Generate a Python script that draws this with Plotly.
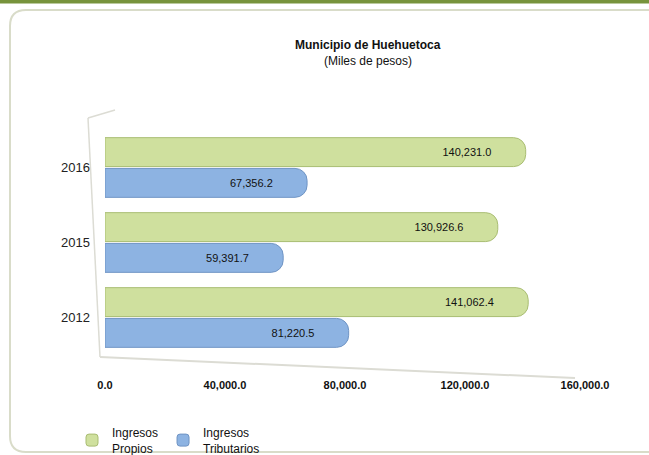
import plotly.graph_objects as go

years = ["2012", "2015", "2016"]
propios = [141062.4, 130926.6, 140231.0]
tributarios = [81220.5, 59391.7, 67356.2]
tick_vals = [0, 40000, 80000, 120000, 160000]
tick_text = ["0.0", "40,000.0", "80,000.0", "120,000.0", "160,000.0"]

W, H = 649, 455
L, R, T, B = 105, 64, 130, 100
pw, ph = W - L - R, H - T - B

def px(x):
    return (x - L) / pw

def py(y):
    return 1 - (y - T) / ph

def fmt(v):
    return f"{v:,.1f}" + "\u2007" * 5

fig = go.Figure()
fig.add_trace(go.Bar(
    y=years, x=tributarios, orientation="h", name="Ingresos<br>Tributarios",
    marker=dict(color="#8db3e2", line=dict(color="#6f94c4", width=1), cornerradius=12),
    text=[fmt(v) for v in tributarios], textposition="inside", insidetextanchor="end",
    textfont=dict(family="Arial", size=11, color="#111"), hoverinfo="x",
))
fig.add_trace(go.Bar(
    y=years, x=propios, orientation="h", name="Ingresos<br>Propios",
    marker=dict(color="#cfe09e", line=dict(color="#a9bd72", width=1), cornerradius=12),
    text=[fmt(v) for v in propios], textposition="inside", insidetextanchor="end",
    textfont=dict(family="Arial", size=11, color="#111"), hoverinfo="x",
))

shapes = [
    dict(type="rect", xref="paper", yref="paper", x0=px(-5), x1=px(W + 5), y0=py(-5), y1=py(3.5),
         fillcolor="#77933c", line=dict(width=0), layer="below"),
]
# rounded border
x0b, y0b, x1b, y1b, r = 10, 10, 700, 452, 16
path = (f"M {px(x0b)},{py(y1b - r)} L {px(x0b)},{py(y0b + r)} "
        f"Q {px(x0b)},{py(y0b)} {px(x0b + r)},{py(y0b)} L {px(x1b)},{py(y0b)} "
        f"M {px(x0b)},{py(y1b - r)} Q {px(x0b)},{py(y1b)} {px(x0b + r)},{py(y1b)} L {px(x1b)},{py(y1b)}")
shapes.append(dict(type="path", xref="paper", yref="paper", path=path,
                   line=dict(color="#d9dcc9", width=2), layer="below"))
# floor/wall lines
shapes.append(dict(type="line", xref="paper", yref="paper", x0=px(100), y0=py(357), x1=px(575), y1=py(378),
                   line=dict(color="#dcdcd4", width=2), layer="below"))
shapes.append(dict(type="line", xref="paper", yref="paper", x0=px(88), y0=py(118), x1=px(100), y1=py(357),
                   line=dict(color="#dcdcd4", width=1.5), layer="below"))
shapes.append(dict(type="line", xref="paper", yref="paper", x0=px(88), y0=py(118), x1=px(115), y1=py(110),
                   line=dict(color="#dcdcd4", width=1.5), layer="below"))

annotations = [
    dict(text="<b>Municipio de Huehuetoca</b>", xref="paper", yref="paper", x=px(368), y=py(45),
         showarrow=False, font=dict(family="Arial", size=12, color="#111"), xanchor="center", yanchor="middle"),
    dict(text="(Miles de pesos)", xref="paper", yref="paper", x=px(368), y=py(61),
         showarrow=False, font=dict(family="Arial", size=12, color="#111"), xanchor="center", yanchor="middle"),
]

fig.update_layout(
    width=W, height=H,
    margin=dict(l=L, r=R, t=T, b=B, autoexpand=False),
    paper_bgcolor="white", plot_bgcolor="white",
    barmode="group", bargap=0.18, bargroupgap=0.06,
    showlegend=True,
    legend=dict(orientation="h", x=px(72), y=py(418), xanchor="left", yanchor="top",
                traceorder="reversed", font=dict(family="Arial", size=12, color="#111"),
                itemwidth=30, bgcolor="rgba(0,0,0,0)"),
    shapes=shapes, annotations=annotations,
    xaxis=dict(range=[0, 160000], tickvals=tick_vals, ticktext=tick_text, showgrid=False,
               zeroline=False, showline=False, ticks="", automargin=False, ticklabelstandoff=22,
               tickfont=dict(family="Arial", size=11, color="#111", weight="bold")),
    yaxis=dict(showgrid=False, zeroline=False, showline=False, ticks="", ticklabelstandoff=14,
               automargin=False, tickfont=dict(family="Arial", size=13, color="#222")),
    font=dict(family="Arial"),
)
fig.write_html("out.html", config={"displayModeBar": False},
               post_script="document.body.style.margin='0';document.body.style.overflow='hidden';")
